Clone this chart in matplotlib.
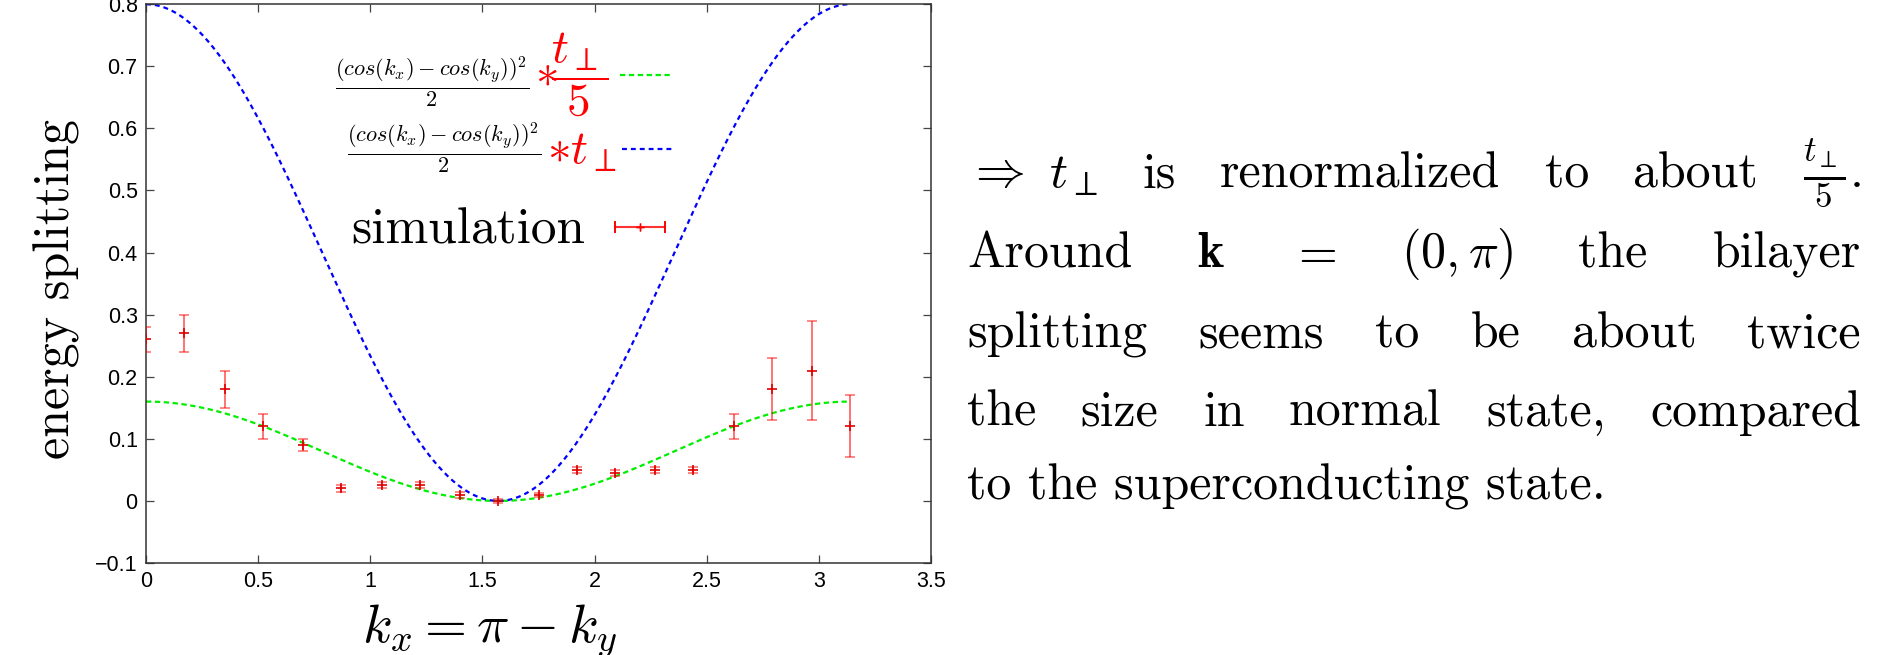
import numpy as np
import matplotlib
matplotlib.use("Agg")
import matplotlib.pyplot as plt
from matplotlib.lines import Line2D
from matplotlib.legend_handler import HandlerBase
from matplotlib.ticker import FuncFormatter

plt.rcParams["font.family"] = ["Liberation Sans", "DejaVu Sans"]
plt.rcParams["mathtext.fontset"] = "cm"

# simulated bilayer splitting along k_x = pi - k_y
k_sim = [0.00, 0.17, 0.35, 0.52, 0.70, 0.87, 1.05, 1.22, 1.40, 1.57,
         1.75, 1.92, 2.09, 2.27, 2.44, 2.62, 2.79, 2.97, 3.14]
e_sim = [0.26, 0.27, 0.18, 0.12, 0.09, 0.02, 0.025, 0.025, 0.01, 0.00,
         0.01, 0.05, 0.045, 0.05, 0.05, 0.12, 0.18, 0.21, 0.12]
e_err = [0.02, 0.03, 0.03, 0.02, 0.01, 0.005, 0.005, 0.005, 0.005, 0.003,
         0.003, 0.005, 0.005, 0.005, 0.005, 0.02, 0.05, 0.08, 0.05]

# model: (cos kx - cos ky)^2 / 2 * t_perp
t_perp = 0.4
renorm = 5

xticks = [0, 0.5, 1, 1.5, 2, 2.5, 3, 3.5]
yticks = [-0.1, 0, 0.1, 0.2, 0.3, 0.4, 0.5, 0.6, 0.7, 0.8]

lab_frac = r"$\frac{(cos(k_x)-cos(k_y))^2}{2}$"
red_green = r"${\ast}\!\dfrac{t_\perp}{5}$"
red_blue = r"${\ast}t_\perp$"

text_lines = [
    [r"$\Rightarrow\ t_\perp$", "is", "renormalized", "to", "about", r"$\frac{t_\perp}{5}.$"],
    ["Around", r"$\mathbf{k}$", r"$=$", r"$(0,\pi)$", "the", "bilayer"],
    ["splitting", "seems", "to", "be", "about", "twice"],
    ["the", "size", "in", "normal", "state,", "compared"],
    ["to the superconducting state."],
]

W, H = 1885, 655
fig = plt.figure(figsize=(W / 100, H / 100), dpi=100)
ax = fig.add_axes([146 / W, (H - 563) / H, 785 / W, 558.8 / H])

kx = np.linspace(0, np.pi, 400)
ky = np.pi - kx
shape = (np.cos(kx) - np.cos(ky)) ** 2 / 2

l_green, = ax.plot(kx, shape * t_perp / renorm, color="#00ee00", lw=1.6,
                   dashes=(2.4, 1.6), zorder=2)
l_blue, = ax.plot(kx, shape * t_perp, color="#0000ff", lw=1.6,
                  dashes=(2.2, 1.8), zorder=2)

eb = ax.errorbar(k_sim, e_sim, yerr=e_err, fmt="none", ecolor=(1, 0, 0, 0.55),
                 elinewidth=1.4, capsize=3.5, capthick=1.2, zorder=3)
for cap in eb[1]:
    cap.set_color("red")
ax.plot(k_sim, e_sim, ls="none", marker="+", ms=7, mew=1.2, color="#e00000", zorder=4)

ax.set_xlim(0, 3.5)
ax.set_ylim(-0.1, 0.8)
ax.set_xticks(xticks)
ax.set_yticks(yticks)
fmt = FuncFormatter(lambda v, p: ("%g" % round(v, 2)).replace("-", "\u2212"))
ax.xaxis.set_major_formatter(fmt)
ax.yaxis.set_major_formatter(fmt)
ax.tick_params(direction="in", length=6, width=0.9, color="#444444",
               top=True, right=True, labelsize=15.5, pad=6)
for s in ax.spines.values():
    s.set_linewidth(1.1)
    s.set_color("#333333")

ax.set_xlabel(r"$k_x = \pi - k_y$", fontsize=39)
ax.xaxis.set_label_coords(0.438, -0.07)
ax.set_ylabel("energy splitting", fontsize=36, fontfamily="cmr10")
ax.yaxis.set_label_coords(-0.084, 0.49)


class HErrHandler(HandlerBase):
    def create_artists(self, legend, orig_handle, xdescent, ydescent,
                       width, height, fontsize, trans):
        y = height / 2 - ydescent
        x0, x1 = -xdescent, width - xdescent
        bar = Line2D([x0, x1], [y, y], color="red", alpha=0.55, lw=1.5, transform=trans)
        caps = Line2D([x0, x1], [y, y], ls="none", marker="|", ms=8, mew=1.2,
                      color="red", transform=trans)
        mid = Line2D([(x0 + x1) / 2], [y], ls="none", marker="+", ms=6, mew=1.0,
                     color="red", transform=trans)
        return [bar, caps, mid]


# one key per row so every row sits where the reference has it
keys = []
for h, anchor in [(l_green, (0.604, 0.868)), (l_blue, (0.606, 0.7355)), (eb, (0.598, 0.596))]:
    leg = ax.legend([h], [""], handler_map={type(eb): HErrHandler()},
                    loc="center left", bbox_to_anchor=anchor, frameon=False,
                    fontsize=20, borderpad=0, borderaxespad=0, handletextpad=0,
                    handlelength=1.8)
    ax.add_artist(leg)
    keys.append(leg)

fig.canvas.draw()
renderer = fig.canvas.get_renderer()
hb = [k.legend_handles[0].get_window_extent(renderer) for k in keys]

# legend labels: black fraction + red factor, left of each key
r1 = ax.annotate(red_green, xy=(hb[0].x0, (hb[0].y0 + hb[0].y1) / 2),
                 xycoords="figure pixels", xytext=(-12, 0), textcoords="offset pixels",
                 ha="right", va="center", color="red", fontsize=34)
ax.annotate(lab_frac, xy=(0, 0.42), xycoords=r1, xytext=(-6, 0),
            textcoords="offset pixels", ha="right", va="center", fontsize=23)
r2 = ax.annotate(red_blue, xy=(hb[1].x0, (hb[1].y0 + hb[1].y1) / 2),
                 xycoords="figure pixels", xytext=(-5, -3), textcoords="offset pixels",
                 ha="right", va="center", color="red", fontsize=34)
ax.annotate(lab_frac, xy=(0, 0.6), xycoords=r2, xytext=(-6, 0),
            textcoords="offset pixels", ha="right", va="center", fontsize=23)
ax.annotate("simulation", xy=(hb[2].x0, (hb[2].y0 + hb[2].y1) / 2),
            xycoords="figure pixels", xytext=(-30, -3), textcoords="offset pixels",
            ha="right", va="center", fontsize=37, fontfamily="cmr10")

# justified paragraph on the right
x_left, x_right = 967, 1861
baselines = [187, 267, 347, 426, 500]
fs_text = 36
for words, yb in zip(text_lines, baselines):
    arts = []
    for w in words:
        fam = None if w.startswith("$") else "cmr10"
        t = fig.text(0, 1 - yb / H, w, fontsize=fs_text, ha="left", va="baseline",
                     fontfamily=fam)
        arts.append(t)
    widths = [a.get_window_extent(renderer).width for a in arts]
    if len(arts) > 1:
        gap = (x_right - x_left - sum(widths)) / (len(arts) - 1)
    else:
        gap = 0
    x = x_left
    for a, wd in zip(arts, widths):
        a.set_x(x / W)
        x += wd + gap

fig.savefig("out.png", dpi=100)
